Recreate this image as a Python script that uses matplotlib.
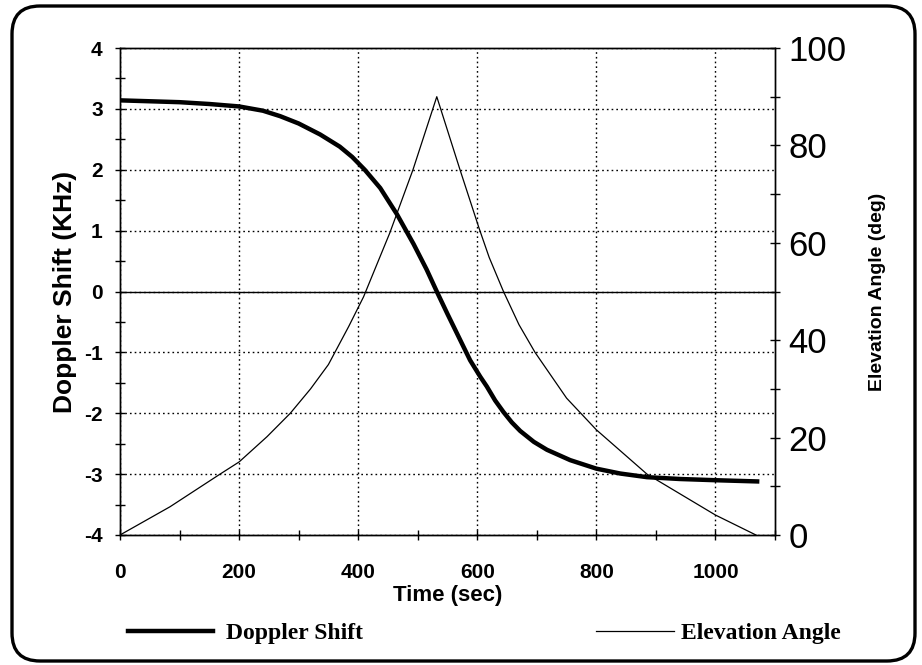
import matplotlib.pyplot as plt
from matplotlib.patches import FancyBboxPatch
from matplotlib.ticker import MultipleLocator

# doppler shift curve (KHz)
time_dop = [0, 100, 150, 200, 240, 269, 300, 336, 369, 390, 411, 437, 465, 493, 515, 532,
            550, 570, 588, 605, 616, 630, 644, 658, 672, 695, 717, 756, 800, 840, 885, 940, 1000, 1070]
doppler = [3.14, 3.11, 3.08, 3.04, 2.97, 2.88, 2.76, 2.58, 2.38, 2.21, 2.00, 1.70, 1.27, 0.78, 0.36, 0.0,
           -0.37, -0.77, -1.13, -1.40, -1.56, -1.79, -1.98, -2.15, -2.29, -2.47, -2.60, -2.77, -2.91,
           -2.99, -3.05, -3.08, -3.10, -3.12]

# elevation angle (deg)
time_el = [0, 84, 168, 200, 247, 286, 320, 350, 384, 409, 453, 492, 532,
           571, 603, 620, 644, 670, 697, 750, 800, 885, 1000, 1068]
elev = [0, 5.8, 12.5, 15.0, 20.2, 25.0, 30.0, 35.0, 42.8, 48.9, 62.0, 75.0, 90.0,
        75.0, 63.0, 57.0, 50.0, 43.2, 37.5, 28.1, 21.6, 12.5, 4.1, 0]

plt.rcParams['font.family'] = ['Liberation Sans', 'DejaVu Sans']
plt.rcParams['axes.unicode_minus'] = False

fig = plt.figure(figsize=(9.22, 6.65), dpi=100)
ax = fig.add_axes([120/922, 1-535/665, 655/922, 487/665])
ax2 = ax.twinx()

l1, = ax.plot(time_dop, doppler, color='black', lw=3.2, label='Doppler Shift')
l2, = ax2.plot(time_el, elev, color='black', lw=0.9, label='Elevation Angle')

ax.set_xlim(0, 1100)
ax.set_ylim(-4, 4)
ax2.set_ylim(0, 100)

ax.xaxis.set_major_locator(MultipleLocator(200))
ax.xaxis.set_minor_locator(MultipleLocator(100))
ax.yaxis.set_major_locator(MultipleLocator(1))
ax.yaxis.set_minor_locator(MultipleLocator(0.5))
ax2.yaxis.set_major_locator(MultipleLocator(20))
ax2.yaxis.set_minor_locator(MultipleLocator(10))

ax.grid(True, which='major', color='black', linestyle=(0, (1.2, 2.2)), linewidth=1.0)
ax.axhline(0, color='black', lw=1.0)

for a in (ax, ax2):
    for s in a.spines.values():
        s.set_linewidth(1.0)

ax.tick_params(axis='both', which='both', direction='inout', length=7, width=1.0)
ax.tick_params(axis='y', pad=9, labelsize=15)
ax.tick_params(axis='x', pad=17, labelsize=15)
ax2.tick_params(axis='y', which='both', direction='inout', length=7, width=1.0, pad=6, labelsize=25)
for lab in ax.get_xticklabels() + ax.get_yticklabels():
    lab.set_fontweight('bold')
ax.set_xticks([0, 200, 400, 600, 800, 1000])

ax.set_xlabel('Time (sec)', fontsize=16, fontweight='bold', labelpad=2)
ax.set_ylabel('Doppler Shift (KHz)', fontsize=19, fontweight='bold', labelpad=5)
ax2.set_ylabel('Elevation Angle (deg)', fontsize=14, fontweight='bold', labelpad=16)

serif = {'family': ['Liberation Serif', 'DejaVu Serif'], 'weight': 'bold', 'size': 17}
fig.legend(handles=[l1], loc='center left', bbox_to_anchor=(128/922, 1-633/665),
           frameon=False, prop=serif, borderpad=0, borderaxespad=0,
           handlelength=3.6, handletextpad=0.55)
fig.legend(handles=[l2], loc='center left', bbox_to_anchor=(596/922, 1-633/665),
           frameon=False, prop=serif, borderpad=0, borderaxespad=0,
           handlelength=3.3, handletextpad=0.3)

box = FancyBboxPatch((0.12, 0.04), 9.03, 6.55, boxstyle='round,pad=0,rounding_size=0.28',
                     transform=fig.dpi_scale_trans, fill=False, lw=2.4, ec='black')
fig.patches.append(box)

fig.savefig('out.png', dpi=100)
